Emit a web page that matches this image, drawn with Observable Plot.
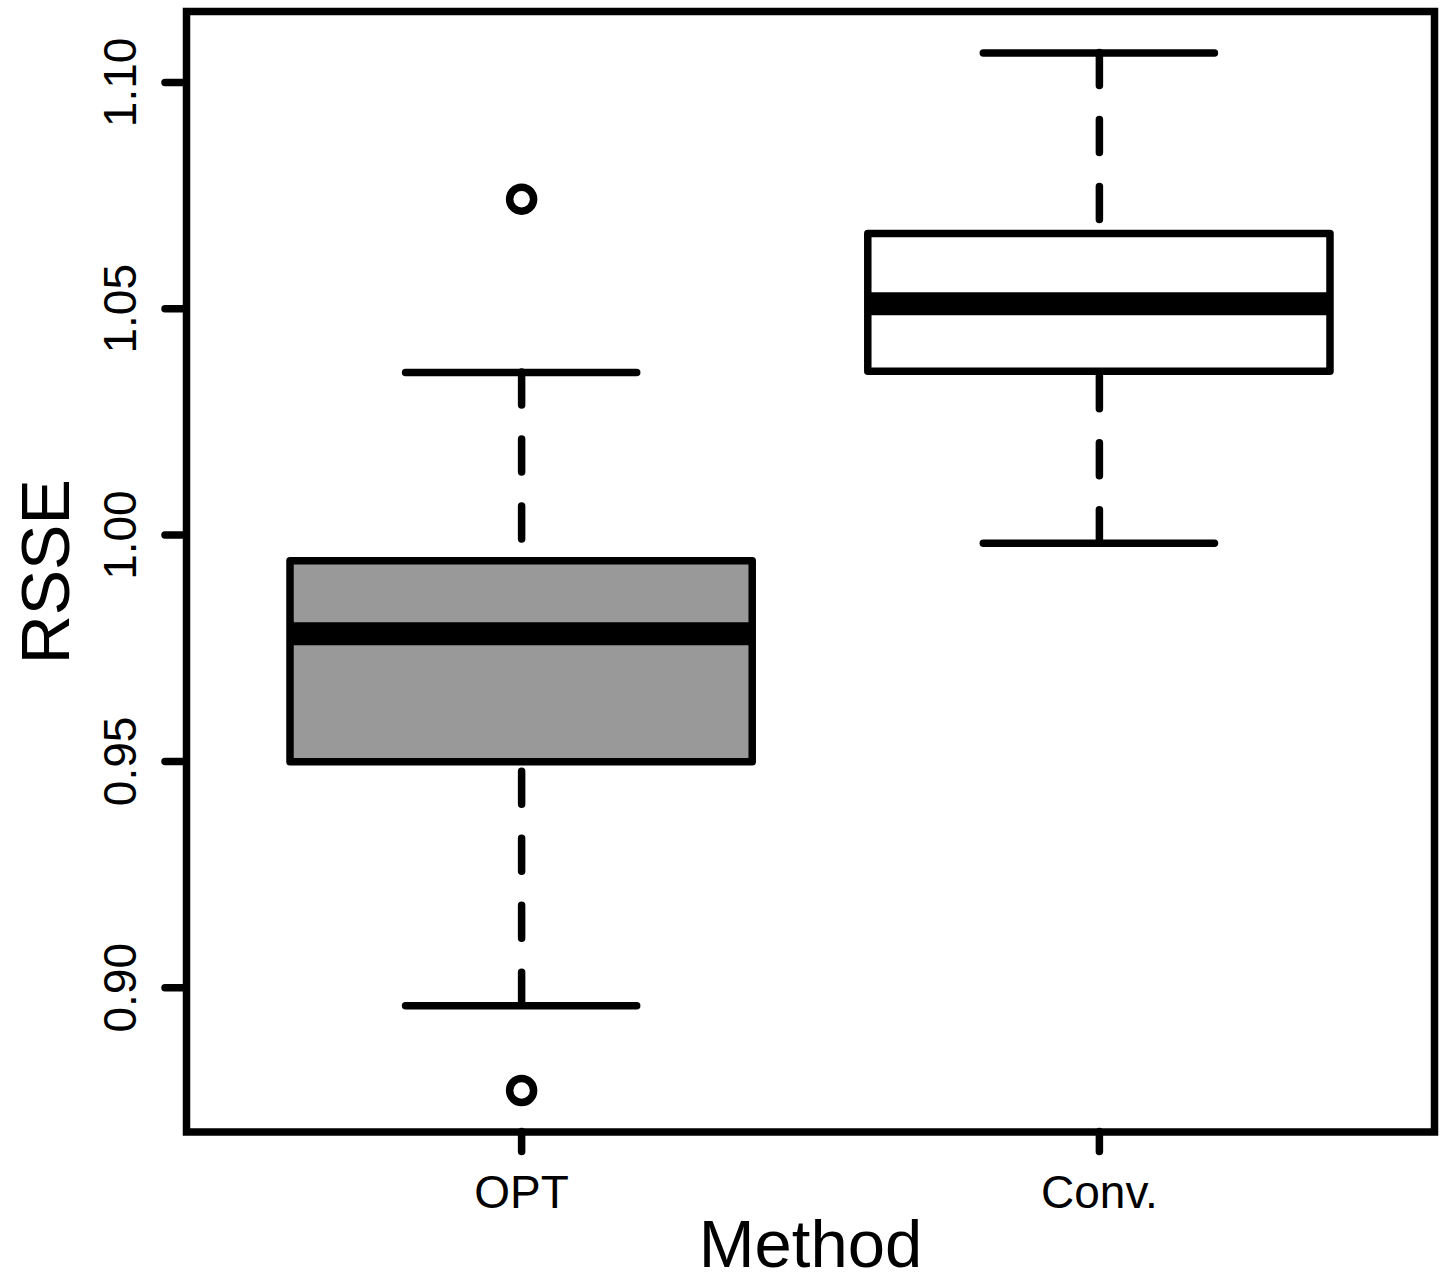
<!DOCTYPE html>
<html>
<head>
<meta charset="utf-8">
<script src="https://cdn.jsdelivr.net/npm/d3@7"></script>
<script src="https://cdn.jsdelivr.net/npm/@observablehq/plot@0.6"></script>
<style>
  html, body { margin: 0; padding: 0; background: #ffffff; }
  #chart svg { display: block; }
</style>
</head>
<body>
<div id="chart"></div>
<script>
// ---- data ----
const methods = ["OPT", "Conv."];
const lowerWhisker = [0.8960, 0.9982];
const lowerQuartile = [0.9498, 1.0361];
const medians = [0.9782, 1.0511];
const upperQuartile = [0.9942, 1.0665];
const upperWhisker = [1.0359, 1.1065];
const boxFills = ["#999999", "#ffffff"];
const outlierMethods = ["OPT", "OPT"];
const outlierValues = [1.0742, 0.8773];
const yTicks = [0.90, 0.95, 1.00, 1.05, 1.10];
const yTickLabels = ["0.90", "0.95", "1.00", "1.05", "1.10"];
const xTitle = "Method";
const yTitle = "RSSE";

// ---- tables built from the arrays ----
const boxes = methods.map((m, i) => ({
  method: m, pos: i + 1,
  lo: lowerWhisker[i], q1: lowerQuartile[i], med: medians[i],
  q3: upperQuartile[i], hi: upperWhisker[i], fill: boxFills[i]
}));
const outliers = outlierValues.map((v, i) => ({pos: methods.indexOf(outlierMethods[i]) + 1, value: v}));
const tickRows = yTicks.map((v, i) => ({value: v, label: yTickLabels[i]}));

// R-style limits: 4% padding around data range and category range
const allVals = [...lowerWhisker, ...upperWhisker, ...outlierValues];
const yMin = d3.min(allVals), yMax = d3.max(allVals);
const yPad = (yMax - yMin) * 0.04;
const xPad = methods.length * 0.04;

const halfBox = 0.4, halfCap = 0.2;
const LW = 7.5;

const chart = Plot.plot({
  width: 1442,
  height: 1281,
  marginLeft: 186,
  marginRight: 8,
  marginTop: 11,
  marginBottom: 149.5,
  style: {fontFamily: "'Liberation Sans', Arial, Helvetica, sans-serif", background: "#ffffff", color: "#000000", overflow: "visible"},
  x: {type: "linear", domain: [0.5 - xPad, methods.length + 0.5 + xPad]},
  y: {type: "linear", domain: [yMin - yPad, yMax + yPad]},
  marks: [
    // whiskers (drawn from whisker end towards the box)
    Plot.ruleX(boxes, {x: "pos", y1: "hi", y2: "q3", stroke: "#000", strokeWidth: LW, strokeDasharray: "33,34", strokeLinecap: "round"}),
    Plot.ruleX(boxes, {x: "pos", y1: "lo", y2: "q1", stroke: "#000", strokeWidth: LW, strokeDasharray: "33,34", strokeLinecap: "round"}),
    // staples
    Plot.ruleY(boxes, {y: "hi", x1: d => d.pos - halfCap, x2: d => d.pos + halfCap, stroke: "#000", strokeWidth: LW, strokeLinecap: "round"}),
    Plot.ruleY(boxes, {y: "lo", x1: d => d.pos - halfCap, x2: d => d.pos + halfCap, stroke: "#000", strokeWidth: LW, strokeLinecap: "round"}),
    // boxes
    Plot.rect(boxes, {x1: d => d.pos - halfBox, x2: d => d.pos + halfBox, y1: "q1", y2: "q3", fill: "fill", stroke: "#000", strokeWidth: LW, strokeLinejoin: "round"}),
    // medians
    Plot.ruleY(boxes, {y: "med", x1: d => d.pos - halfBox, x2: d => d.pos + halfBox, stroke: "#000", strokeWidth: 23, strokeLinecap: "butt"}),
    // outliers
    Plot.dot(outliers, {x: "pos", y: "value", r: 12, stroke: "#000", strokeWidth: LW, fill: "#fff"}),
    // frame
    Plot.frame({stroke: "#000", strokeWidth: LW}),
    // axes
    Plot.axisY(yTicks, {tickSize: 21, stroke: "#000", strokeWidth: LW, strokeLinecap: "round", fill: "none", label: null}),
    Plot.text(tickRows, {y: "value", text: "label", frameAnchor: "left", dx: -51, rotate: -90, textAnchor: "middle", lineAnchor: "bottom", fontSize: 46, fill: "#000"}),
    Plot.axisX([1, 2], {tickSize: 20, stroke: "#000", strokeWidth: LW, strokeLinecap: "round", tickPadding: 23, tickFormat: d => methods[d - 1], fontSize: 46, fill: "#000", label: null}),
    // axis titles
    Plot.text([yTitle], {text: d => d, frameAnchor: "left", dx: -118, rotate: -90, textAnchor: "middle", lineAnchor: "bottom", fontSize: 68, fill: "#000"}),
    Plot.text([xTitle], {text: d => d, frameAnchor: "bottom", dy: 134.5, textAnchor: "middle", lineAnchor: "bottom", fontSize: 67, fill: "#000"})
  ]
});
document.getElementById("chart").appendChild(chart);
</script>
</body>
</html>
